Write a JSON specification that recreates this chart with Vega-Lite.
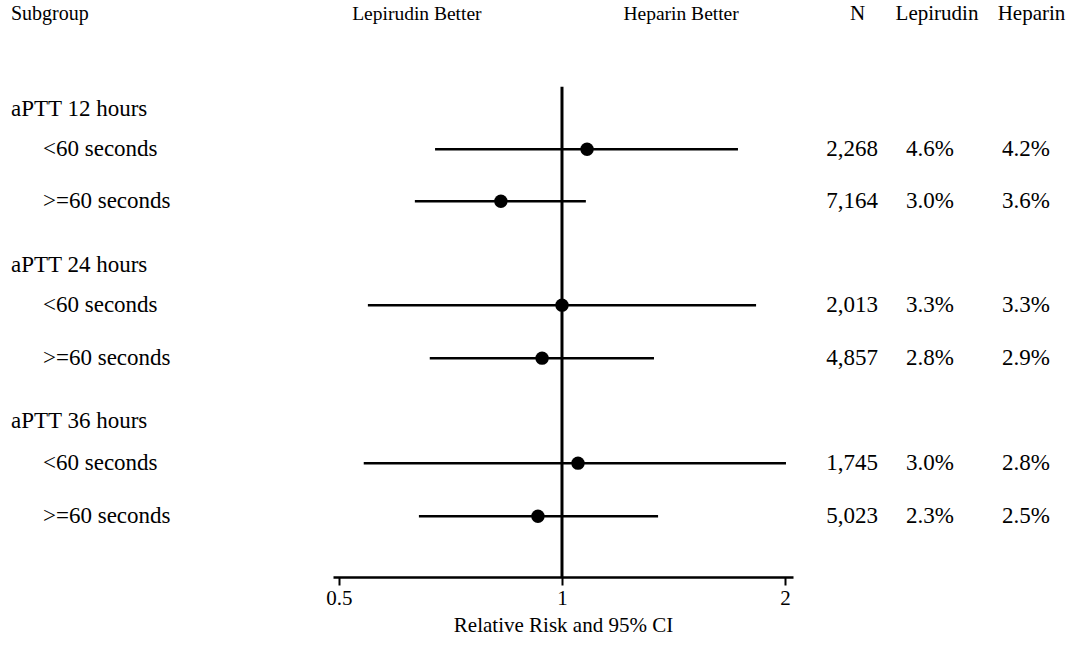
{
  "$schema": "https://vega.github.io/schema/vega-lite/v6.json",
  "padding": 0,
  "bounds": "flush",
  "spacing": 12,
  "background": "white",
  "config": {
    "view": {"stroke": null},
    "text": {"font": "Liberation Serif", "fontSize": 23, "color": "#000", "baseline": "middle"},
    "axis": {
      "labelFont": "Liberation Serif", "titleFont": "Liberation Serif",
      "labelFontSize": 21, "titleFontSize": 21, "titleFontWeight": "normal",
      "labelColor": "#000", "titleColor": "#000", "domainColor": "#000", "tickColor": "#000",
      "grid": false
    }
  },
  "datasets": {
    "left": [
      {"label": "Subgroup", "kind": "head", "level": 0, "row": -1.83},
      {"label": "aPTT 12 hours", "kind": "body", "level": 0, "row": 0},
      {"label": "<60 seconds", "kind": "body", "level": 1, "row": 0.77},
      {"label": ">=60 seconds", "kind": "body", "level": 1, "row": 1.77},
      {"label": "aPTT 24 hours", "kind": "body", "level": 0, "row": 3},
      {"label": "<60 seconds", "kind": "body", "level": 1, "row": 3.77},
      {"label": ">=60 seconds", "kind": "body", "level": 1, "row": 4.79},
      {"label": "aPTT 36 hours", "kind": "body", "level": 0, "row": 6},
      {"label": "<60 seconds", "kind": "body", "level": 1, "row": 6.81},
      {"label": ">=60 seconds", "kind": "body", "level": 1, "row": 7.83}
    ],
    "forest": [
      {"group": "aPTT 12 hours", "sub": "<60 seconds", "row": 0.77, "rr": 1.081, "lo": 0.674, "hi": 1.728},
      {"group": "aPTT 12 hours", "sub": ">=60 seconds", "row": 1.77, "rr": 0.827, "lo": 0.633, "hi": 1.077},
      {"group": "aPTT 24 hours", "sub": "<60 seconds", "row": 3.77, "rr": 1.0, "lo": 0.547, "hi": 1.828},
      {"group": "aPTT 24 hours", "sub": ">=60 seconds", "row": 4.79, "rr": 0.94, "lo": 0.663, "hi": 1.331},
      {"group": "aPTT 36 hours", "sub": "<60 seconds", "row": 6.81, "rr": 1.051, "lo": 0.54, "hi": 2.006},
      {"group": "aPTT 36 hours", "sub": ">=60 seconds", "row": 7.83, "rr": 0.928, "lo": 0.641, "hi": 1.348}
    ],
    "refline": [{"x": 1, "row": -0.43, "row2": 9}],
    "sides": [
      {"label": "Lepirudin Better", "x": 0.637, "row": -1.83},
      {"label": "Heparin Better", "x": 1.448, "row": -1.83}
    ],
    "right": [
      {"kind": "head", "col": "N", "value": "N", "row": -1.83},
      {"kind": "head", "col": "Lepirudin", "value": "Lepirudin", "row": -1.83},
      {"kind": "head", "col": "Heparin", "value": "Heparin", "row": -1.83},
      {"kind": "val", "col": "N", "value": "2,268", "row": 0.77},
      {"kind": "val", "col": "Lepirudin", "value": "4.6%", "row": 0.77},
      {"kind": "val", "col": "Heparin", "value": "4.2%", "row": 0.77},
      {"kind": "val", "col": "N", "value": "7,164", "row": 1.77},
      {"kind": "val", "col": "Lepirudin", "value": "3.0%", "row": 1.77},
      {"kind": "val", "col": "Heparin", "value": "3.6%", "row": 1.77},
      {"kind": "val", "col": "N", "value": "2,013", "row": 3.77},
      {"kind": "val", "col": "Lepirudin", "value": "3.3%", "row": 3.77},
      {"kind": "val", "col": "Heparin", "value": "3.3%", "row": 3.77},
      {"kind": "val", "col": "N", "value": "4,857", "row": 4.79},
      {"kind": "val", "col": "Lepirudin", "value": "2.8%", "row": 4.79},
      {"kind": "val", "col": "Heparin", "value": "2.9%", "row": 4.79},
      {"kind": "val", "col": "N", "value": "1,745", "row": 6.81},
      {"kind": "val", "col": "Lepirudin", "value": "3.0%", "row": 6.81},
      {"kind": "val", "col": "Heparin", "value": "2.8%", "row": 6.81},
      {"kind": "val", "col": "N", "value": "5,023", "row": 7.83},
      {"kind": "val", "col": "Lepirudin", "value": "2.3%", "row": 7.83},
      {"kind": "val", "col": "Heparin", "value": "2.5%", "row": 7.83}
    ]
  },
  "hconcat": [
    {
      "width": 321,
      "height": 577,
      "data": {"name": "left"},
      "encoding": {
        "x": {"field": "level", "type": "quantitative", "scale": {"domain": [0, 1], "range": [11, 43]}, "axis": null},
        "y": {"field": "row", "type": "quantitative", "scale": {"domain": [-2.1, 9], "reverse": true, "nice": false, "zero": false}, "axis": null},
        "text": {"field": "label"}
      },
      "layer": [
        {"transform": [{"filter": "datum.kind === 'head'"}], "mark": {"type": "text", "align": "left", "fontSize": 20}},
        {"transform": [{"filter": "datum.kind === 'body'"}], "mark": {"type": "text", "align": "left"}}
      ]
    },
    {
      "width": 460,
      "height": 577,
      "layer": [
        {
          "data": {"name": "forest"},
          "mark": {"type": "rule", "color": "#000", "strokeWidth": 2.5},
          "encoding": {
            "x": {
              "field": "lo", "type": "quantitative", "title": "Relative Risk and 95% CI",
              "scale": {"type": "log", "domain": [0.4908, 2.0503], "nice": false},
              "axis": {"values": [0.5, 1, 2], "format": "~g", "labelFlush": false, "tickSize": 8, "tickWidth": 2, "domainWidth": 2.5, "labelPadding": 2, "titlePadding": 6}
            },
            "x2": {"field": "hi"},
            "y": {"field": "row", "type": "quantitative", "scale": {"domain": [-2.1, 9], "reverse": true, "nice": false, "zero": false}, "axis": null}
          }
        },
        {
          "data": {"name": "refline"},
          "mark": {"type": "rule", "color": "#000", "strokeWidth": 3},
          "encoding": {
            "x": {"field": "x", "type": "quantitative", "title": "Relative Risk and 95% CI"},
            "y": {"field": "row", "type": "quantitative"},
            "y2": {"field": "row2"}
          }
        },
        {
          "data": {"name": "forest"},
          "mark": {"type": "point", "shape": "circle", "filled": true, "color": "#000", "opacity": 1, "size": 180},
          "encoding": {
            "x": {"field": "rr", "type": "quantitative", "title": "Relative Risk and 95% CI"},
            "y": {"field": "row", "type": "quantitative"}
          }
        },
        {
          "data": {"name": "sides"},
          "mark": {"type": "text", "align": "center", "fontSize": 19.5},
          "encoding": {
            "x": {"field": "x", "type": "quantitative", "title": "Relative Risk and 95% CI"},
            "y": {"field": "row", "type": "quantitative"},
            "text": {"field": "label"}
          }
        }
      ]
    },
    {
      "width": 266,
      "height": 577,
      "data": {"name": "right"},
      "encoding": {
        "x": {"field": "col", "type": "nominal", "sort": null, "scale": {"type": "point", "domain": ["N", "Lepirudin", "Heparin"], "range": [50, 224], "padding": 0}, "axis": null},
        "y": {"field": "row", "type": "quantitative", "scale": {"domain": [-2.1, 9], "reverse": true, "nice": false, "zero": false}, "axis": null},
        "text": {"field": "value"}
      },
      "layer": [
        {
          "transform": [{"filter": "datum.kind === 'head' && datum.col !== 'Lepirudin'"}],
          "mark": {"type": "text", "align": "center", "dx": 2.5, "fontSize": 21}
        },
        {
          "transform": [{"filter": "datum.kind === 'head' && datum.col === 'Lepirudin'"}],
          "mark": {"type": "text", "align": "center", "dx": -5, "fontSize": 21}
        },
        {
          "transform": [{"filter": "datum.kind === 'val' && datum.col !== 'Lepirudin'"}],
          "mark": {"type": "text", "align": "center", "dx": -3}
        },
        {
          "transform": [{"filter": "datum.kind === 'val' && datum.col === 'Lepirudin'"}],
          "mark": {"type": "text", "align": "center", "dx": -12}
        }
      ]
    }
  ]
}
